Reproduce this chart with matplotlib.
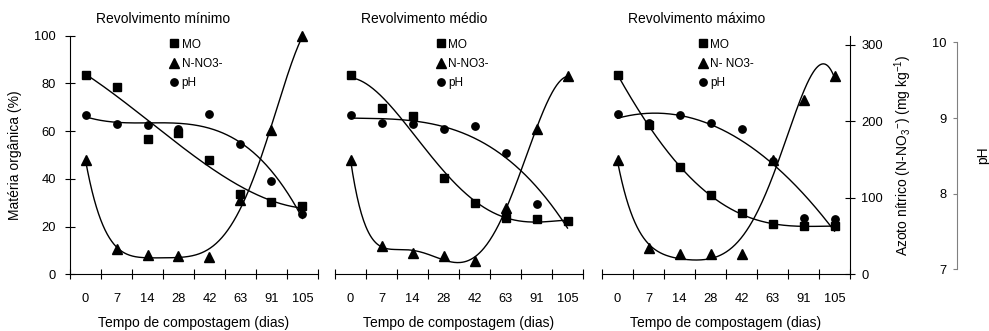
import numpy as np
import matplotlib.pyplot as plt
from matplotlib.lines import Line2D

plt.rcParams['font.family'] = ['Liberation Sans', 'DejaVu Sans']
plt.rcParams['mathtext.fontset'] = 'custom'
plt.rcParams['mathtext.rm'] = 'Liberation Sans'
plt.rcParams['mathtext.it'] = 'Liberation Sans:italic'

# dados
dias = ['0', '7', '14', '28', '42', '63', '91', '105']
titulos = ['Revolvimento mínimo', 'Revolvimento médio', 'Revolvimento máximo']
rotulos_n = ['N-NO3-', 'N-NO3-', 'N- NO3-']

# matéria orgânica (%)
mo_min = [83.5, 78.3, 56.7, 59.2, 48.0, 33.8, 30.2, 28.5]
mo_med = [83.6, 69.7, 66.2, 40.4, 30.0, 23.7, 23.0, 22.3]
mo_max = [83.6, 62.7, 45.0, 33.1, 25.5, 20.9, 20.2, 20.2]

# azoto nítrico (mg/kg)
no3_min = [150, 32.6, 25.7, 23.9, 23.0, 97.8, 189, 312]
no3_med = [150, 36.9, 28.3, 23.9, 17.4, 87, 190, 259]
no3_max = [149, 34.8, 26, 27, 26, 150, 228, 259]

# pH
ph_min = [9.04, 8.92, 8.91, 8.86, 9.05, 8.65, 8.17, 7.73]
ph_med = [9.04, 8.94, 8.92, 8.85, 8.90, 8.53, 7.86, 7.64]
ph_max = [9.05, 8.94, 9.04, 8.94, 8.86, 8.43, 7.68, 7.66]

# ordem das linhas de tendência polinomiais
grau_mo = [3, 4, 4]
grau_no3 = [5, 6, 5]
grau_ph = [3, 3, 2]

mo = [mo_min, mo_med, mo_max]
no3 = [no3_min, no3_med, no3_max]
ph = [ph_min, ph_med, ph_max]

W, H = 989, 331
fig = plt.figure(figsize=(W / 100, H / 100), dpi=100)

y0, y1 = 274.3, 35.7   # pixel do zero e do topo
lefts = [70, 335, 602]
largura = 248
leg_x = [0.407, 0.414, 0.392]

x = np.arange(len(dias))
xs = np.linspace(0, len(dias) - 1, 300)


def tendencia(axis, vals, grau):
    coef = np.polyfit(x, vals, grau)
    axis.plot(xs, np.polyval(coef, xs), color='k', lw=1.0, clip_on=False)


for i in range(3):
    ax = fig.add_axes([lefts[i] / W, (H - y0) / H, largura / W, (y0 - y1) / H])
    ax_n = ax.twinx()
    ax_p = ax.twinx()

    ax.set_xlim(-0.5, 7.5)
    ax.set_ylim(0, 100)
    ax_n.set_ylim(0, 312)
    ax_p.set_ylim(6.93, 10.09)

    for a in (ax, ax_n, ax_p):
        for s in a.spines.values():
            s.set_visible(False)
            s.set_linewidth(0.8)
        a.patch.set_visible(False)

    ax.spines['bottom'].set_visible(True)
    ax.set_xticks(np.arange(-0.5, 8, 1))
    ax.set_xticklabels([])
    ax.set_xticks(x, minor=True)
    ax.set_xticklabels(dias, minor=True)
    ax.tick_params(axis='x', which='major', direction='inout', length=6.5, width=0.8)
    ax.tick_params(axis='x', which='minor', length=0, pad=13.5, labelsize=9.3)

    if i == 0:
        ax.spines['left'].set_visible(True)
        ax.set_yticks(np.arange(0, 101, 20))
        ax.tick_params(axis='y', direction='inout', length=6.5, width=0.8, pad=6.8, labelsize=9.3)
        ax.text(-0.222, 0.5, 'Matéria orgânica (%)', rotation=90, ha='center', va='center',
                fontsize=10, transform=ax.transAxes)
    else:
        ax.set_yticks([])

    ax_n.set_yticks([])
    ax_p.set_yticks([])

    if i == 2:
        ax_n.spines['right'].set_visible(True)
        ax_n.set_yticks([0, 100, 200, 300])
        ax_n.tick_params(axis='y', direction='inout', length=6.5, width=0.8, pad=5, labelsize=9.3)
        ax_n.text(1.214, 0.5, r'Azoto nítrico (N-NO$_{3}$$^{-}$) (mg kg$^{-1}$)', rotation=90,
                  ha='center', va='center', fontsize=10, transform=ax_n.transAxes)

        ax_p.yaxis.tick_left()
        ax_p.spines['left'].set_visible(True)
        ax_p.spines['left'].set_position(('axes', (956.7 - lefts[2]) / largura))
        ax_p.spines['left'].set_bounds(7, 10)
        ax_p.spines['left'].set_color('#808080')
        ax_p.set_yticks([7, 8, 9, 10])
        ax_p.tick_params(axis='y', direction='out', length=3, width=0.8, pad=4.3,
                         labelsize=9.3, color='#808080')
        ax_p.text((983 - lefts[2]) / largura, 0.5, 'pH', rotation=90, ha='center', va='center',
                  fontsize=10, transform=ax_p.transAxes)

    # séries
    tendencia(ax, mo[i], grau_mo[i])
    ax.plot(x, mo[i], 's', color='k', ms=6, clip_on=False)
    tendencia(ax_n, no3[i], grau_no3[i])
    ax_n.plot(x, no3[i], '^', color='k', ms=7, clip_on=False)
    tendencia(ax_p, ph[i], grau_ph[i])
    ax_p.plot(x, ph[i], 'o', color='k', ms=5.3, clip_on=False)

    ax.text(0.105, 1.07, titulos[i], ha='left', va='center', fontsize=10, transform=ax.transAxes)
    ax.text(0.5, -0.205, 'Tempo de compostagem (dias)', ha='center', va='center',
            fontsize=10, transform=ax.transAxes)

    handles = [Line2D([], [], marker='s', color='k', ls='none', ms=6),
               Line2D([], [], marker='^', color='k', ls='none', ms=7),
               Line2D([], [], marker='o', color='k', ls='none', ms=5.3)]
    ax_p.legend(handles, ['MO', rotulos_n[i], 'pH'], loc='upper left',
                bbox_to_anchor=(leg_x[i], 0.988), frameon=False, fontsize=8.5,
                handlelength=0.6, handletextpad=0.3, labelspacing=0.6,
                borderaxespad=0, borderpad=0)

fig.savefig('out.png', dpi=100)
